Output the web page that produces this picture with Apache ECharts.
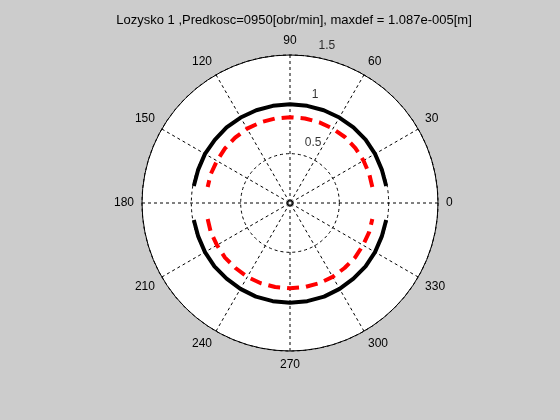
<!DOCTYPE html>
<html>
<head>
<meta charset="utf-8">
<script src="https://cdn.jsdelivr.net/npm/echarts@6/dist/echarts.min.js"></script>
<style>
html,body{margin:0;padding:0;background:#cccccc;}
#chart{width:560px;height:420px;}
</style>
</head>
<body>
<div id="chart"></div>
<script>
const titleText = "Lozysko 1 ,Predkosc=0950[obr/min], maxdef = 1.087e-005[m]";
const radiusTicks = [0.5, 1, 1.5];
const radiusTickLabels = ["0.5", "1", "1.5"];

// black solid curve (two arcs)
const blackAnglesUpper = [10,20,30,40,50,60,70,80,90,100,110,120,130,140,150,160,170];
const blackRadiiUpper  = [0.99,0.99,0.995,1.0,1.0,1.0,1.0,1.0,1.0,1.0,1.0,1.0,1.0,0.995,0.995,0.99,0.99];
const blackAnglesLower = [190,200,210,220,230,240,250,260,270,280,290,300,310,320,330,340,350];
const blackRadiiLower  = [0.99,0.99,0.995,1.0,1.0,1.005,1.01,1.01,1.01,1.01,1.01,1.005,1.0,1.0,0.995,0.99,0.99];

// red dashed curve (two arcs)
const redAnglesUpper = [11,20,30,40,50,60,70,80,90,100,110,120,130,140,150,160,169];
const redRadiiUpper  = [0.85,0.855,0.86,0.865,0.87,0.87,0.87,0.87,0.87,0.87,0.87,0.87,0.865,0.86,0.855,0.855,0.85];
const redAnglesLower = [191,200,210,220,230,240,250,260,270,280,290,300,310,320,330,340,349];
const redRadiiLower  = [0.85,0.855,0.855,0.86,0.86,0.865,0.865,0.865,0.865,0.865,0.865,0.865,0.86,0.86,0.855,0.855,0.85];

const pairs = (rs, as) => rs.map((r, i) => [r, as[i]]);

const chart = echarts.init(document.getElementById('chart'));
const font = 'Liberation Sans, Arial, sans-serif';
const hidden = {axisLine: {show: false}, axisTick: {show: false}, axisLabel: {show: false}, splitLine: {show: false}};
chart.setOption({
  backgroundColor: '#cccccc',
  animation: false,
  title: {
    text: titleText, left: 289, top: 9, textAlign: 'center',
    textStyle: {fontSize: 13, fontWeight: 'normal', color: '#000', fontFamily: font}
  },
  polar: [{center: [290, 203], radius: 148}, {center: [290, 203], radius: 148}],
  angleAxis: [
    Object.assign({polarIndex: 0, type: 'value', min: 0, max: 360, interval: 30, startAngle: 0, clockwise: false, z: 0,
      splitArea: {show: true, areaStyle: {color: ['#ffffff']}}}, hidden),
    {
      polarIndex: 1, type: 'value', min: 0, max: 360, interval: 30, startAngle: 0, clockwise: false, z: 2,
      axisLine: {show: true, lineStyle: {color: '#000', width: 1}},
      axisTick: {show: false},
      axisLabel: {show: true, margin: 8, color: '#000', fontSize: 12, fontFamily: font,
        formatter: v => (v === 360 ? '' : String(v))},
      splitLine: {show: true, lineStyle: {color: '#000', width: 1, type: [3, 3]}},
      splitArea: {show: false}
    }
  ],
  radiusAxis: [
    Object.assign({polarIndex: 0, type: 'value', min: 0, max: 1.5, interval: 0.5, z: 0, splitArea: {show: false}}, hidden),
    {
      polarIndex: 1, type: 'value', min: 0, max: 1.5, interval: 0.5, z: 2,
      axisLine: {show: false}, axisTick: {show: false}, axisLabel: {show: false},
      splitLine: {show: true, lineStyle: {color: '#000', width: 1, type: [3, 3]}},
      splitArea: {show: false}
    }
  ],
  series: [
    {type: 'line', coordinateSystem: 'polar', polarIndex: 1, data: pairs(blackRadiiUpper, blackAnglesUpper),
      showSymbol: false, lineStyle: {color: '#000', width: 4}, z: 3},
    {type: 'line', coordinateSystem: 'polar', polarIndex: 1, data: pairs(blackRadiiLower, blackAnglesLower),
      showSymbol: false, lineStyle: {color: '#000', width: 4}, z: 3},
    {type: 'line', coordinateSystem: 'polar', polarIndex: 1, data: pairs(redRadiiUpper, redAnglesUpper),
      showSymbol: false, lineStyle: {color: '#ff0000', width: 4, type: [12, 7]}, z: 4},
    {type: 'line', coordinateSystem: 'polar', polarIndex: 1, data: pairs(redRadiiLower, redAnglesLower),
      showSymbol: false, lineStyle: {color: '#ff0000', width: 4, type: [12, 7]}, z: 4},
    {type: 'scatter', coordinateSystem: 'polar', polarIndex: 1, data: [[0, 0]],
      symbol: 'emptyCircle', symbolSize: 5, itemStyle: {color: '#000', borderColor: '#000', borderWidth: 4.5}, z: 5},
    {type: 'scatter', coordinateSystem: 'polar', polarIndex: 1, symbolSize: 0, silent: true, z: 6,
      data: radiusTicks.map((r, i) => ({value: [r, 82], name: radiusTickLabels[i]})),
      label: {show: true, position: [8, -17], formatter: p => p.name,
        color: '#000', fontSize: 12, fontFamily: font}}
  ]
});
</script>
</body>
</html>
